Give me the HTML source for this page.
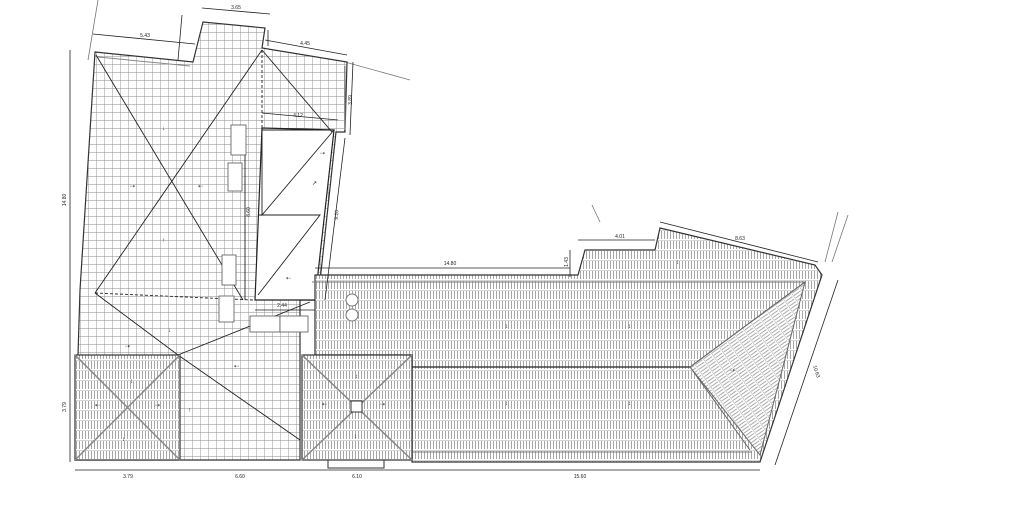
<!DOCTYPE html>
<html><head><style>
html,body{margin:0;padding:0;background:#fff;}
svg{display:block;font-family:"Liberation Sans",sans-serif;}
</style></head><body>
<svg width="1024" height="512" viewBox="0 0 1024 512" xmlns="http://www.w3.org/2000/svg">
<defs>
<pattern id="grid" width="8" height="8" patternUnits="userSpaceOnUse">
<rect width="8" height="8" fill="#fff"/>
<path d="M0 0H8M0 0V8" stroke="#8a8a8a" stroke-width="0.9"/>
</pattern>
<pattern id="tile" width="6" height="10" patternUnits="userSpaceOnUse">
<rect width="6" height="10" fill="#fff"/>
<path d="M0 0H6M1.5 1V9M4.5 1V9" stroke="#909090" stroke-width="0.8"/>
</pattern>
<pattern id="tileh" width="10" height="6" patternUnits="userSpaceOnUse" patternTransform="rotate(-35)">
<rect width="10" height="6" fill="#fff"/>
<path d="M0 0V6M1 1.5H9M1 4.5H9" stroke="#909090" stroke-width="0.8"/>
</pattern>
</defs>

<g stroke="#777" stroke-width="0.8" fill="none">
<line x1="98" y1="0" x2="88" y2="60"/>
<line x1="345" y1="62" x2="410" y2="80"/>
<line x1="592" y1="205" x2="600" y2="222"/>
<line x1="838" y1="212" x2="825" y2="262"/>
<line x1="848" y1="215" x2="832" y2="262"/>
</g>

<path d="M95,52 L193,62 L203,22 L265,28 L262,48 L347,62 L345,132 L336,132 L318,300 L300,300 L300,460 L75,460 L78,355 L80,290 Z" fill="url(#grid)" stroke="#333" stroke-width="1.2"/>
<path d="M98,57 L190,66 M345,66 L345,130" stroke="#888" fill="none"/>
<path d="M262,128 L334,130 L315,300 L255,300 Z" fill="#fff" stroke="#222" stroke-width="1.2"/>
<path d="M262,130 L334,130 L262,215 Z M258,215 L320,215 L258,295" fill="none" stroke="#222" stroke-width="0.9"/>
<line x1="258" y1="215" x2="320" y2="215" stroke="#222" stroke-dasharray="3,2"/>
<g stroke="#222" stroke-width="0.9" fill="none">
<line x1="96" y1="55" x2="243" y2="300"/>
<line x1="262" y1="50" x2="95" y2="293"/>
<line x1="262" y1="50" x2="332" y2="132"/>
<line x1="262" y1="50" x2="262" y2="130" stroke-dasharray="3,2"/>
<line x1="95" y1="293" x2="178" y2="355"/>
<line x1="95" y1="293" x2="253" y2="300" stroke-dasharray="3,2"/>
<line x1="178" y1="355" x2="310" y2="302"/>
<line x1="178" y1="355" x2="300" y2="440"/>
<line x1="245" y1="128" x2="245" y2="300"/>
</g>
<g fill="#fff" stroke="#555" stroke-width="0.8">
<rect x="231" y="125" width="15" height="30"/>
<rect x="228" y="163" width="14" height="28"/>
<rect x="222" y="255" width="14" height="30"/>
<rect x="219" y="296" width="15" height="26"/>
<rect x="250" y="316" width="30" height="16"/>
<rect x="280" y="316" width="28" height="16"/>
</g>

<path d="M315,275 L578,275 L585,250 L655,250 L660,228 L815,265 L822,275 L760,462 L412,462 L412,355 L315,355 Z" fill="url(#tile)" stroke="#333" stroke-width="1.2"/>
<path d="M690,367 L805,282 L760,455 Z" fill="url(#tileh)" stroke="#666"/>
<path d="M312,282 L805,282 M412,452 L752,452" stroke="#777" fill="none"/>
<line x1="410" y1="367" x2="690" y2="367" stroke="#222" stroke-width="1.2"/>
<line x1="690" y1="367" x2="805" y2="282" stroke="#666"/>
<line x1="690" y1="367" x2="750" y2="450" stroke="#666"/>
<circle cx="352" cy="300" r="6" fill="#fff" stroke="#777"/>
<circle cx="352" cy="315" r="6" fill="#fff" stroke="#777"/>

<rect x="75" y="355" width="105" height="105" fill="url(#tile)" stroke="#333" stroke-width="1.2"/>
<path d="M75,355 L180,460 M180,355 L75,460" stroke="#888" stroke-width="1.5"/>
<rect x="302" y="355" width="110" height="105" fill="url(#tile)" stroke="#333" stroke-width="1.2"/>
<path d="M302,355 L412,460 M412,355 L302,460" stroke="#888" stroke-width="1.5"/>
<rect x="351" y="401" width="11" height="11" fill="#fff" stroke="#333"/>
<rect x="328" y="460" width="56" height="8" fill="none" stroke="#333"/>

<g stroke="#222" stroke-width="0.8" fill="none">
<line x1="93" y1="34" x2="195" y2="44"/>
<line x1="202" y1="8" x2="270" y2="14"/>
<line x1="182" y1="15" x2="178" y2="60"/>
<line x1="268" y1="30" x2="268" y2="46"/>
<line x1="265" y1="40" x2="347" y2="55"/>
<line x1="353" y1="62" x2="350" y2="135"/>
<line x1="262" y1="113" x2="338" y2="120"/>
<line x1="345" y1="138" x2="325" y2="300"/>
<line x1="70" y1="50" x2="70" y2="462"/>
<line x1="75" y1="470" x2="760" y2="470"/>
<line x1="255" y1="310" x2="315" y2="310"/>
<line x1="315" y1="268" x2="570" y2="268"/>
<line x1="570" y1="250" x2="570" y2="277"/>
<line x1="578" y1="240" x2="655" y2="240"/>
<line x1="660" y1="222" x2="818" y2="262"/>
<line x1="838" y1="280" x2="775" y2="465"/>
</g>
<g font-size="5" fill="#222" text-anchor="middle">
<text x="145" y="37">5.43</text>
<text x="236" y="9">3.65</text>
<text x="305" y="45">4.45</text>
<text x="298" y="117">4.12</text>
<text x="282" y="307">2.44</text>
<text x="450" y="265">14.80</text>
<text x="620" y="238">4.01</text>
<text x="740" y="240">8.63</text>
<text x="128" y="478">3.79</text>
<text x="240" y="478">6.60</text>
<text x="357" y="478">6.10</text>
<text x="580" y="478">15.60</text>
<text transform="translate(66,200) rotate(-90)">14.80</text>
<text transform="translate(66,407) rotate(-90)">3.79</text>
<text transform="translate(352,100) rotate(-90)">3.89</text>
<text transform="translate(338,215) rotate(-85)">9.20</text>
<text transform="translate(250,212) rotate(-90)">8.60</text>
<text transform="translate(568,262) rotate(-90)">1.43</text>
<text transform="translate(815,372) rotate(72)">10.63</text>
</g>
<g font-size="6" fill="#222">
<text x="130" y="188">⇢</text><text x="198" y="188">⇠</text>
<text x="162" y="130">↓</text><text x="162" y="242">↑</text>
<text x="320" y="155">⇢</text><text x="312" y="185">↗</text>
<text x="286" y="280">⇠</text><text x="168" y="332">↓</text>
<text x="125" y="348">⇢</text><text x="234" y="368">⇠</text>
<text x="188" y="412">↑</text><text x="130" y="383">↕</text>
<text x="95" y="407">⇠</text><text x="155" y="407">⇢</text>
<text x="122" y="441">↕</text><text x="355" y="378">↕</text>
<text x="322" y="406">⇠</text><text x="380" y="406">⇢</text>
<text x="354" y="438">↕</text><text x="505" y="328">↕</text>
<text x="628" y="328">↕</text><text x="505" y="405">↕</text>
<text x="628" y="405">↕</text><text x="730" y="372">⇢</text>
<text x="676" y="264">↕</text>
</g>
</svg>
</body></html>
